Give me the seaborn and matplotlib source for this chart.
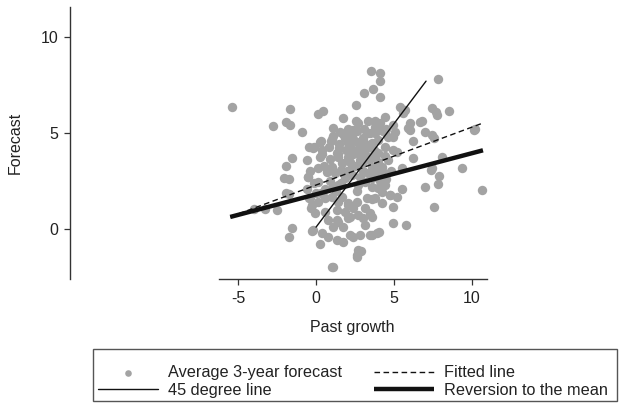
import matplotlib
matplotlib.use("Agg")
import matplotlib.pyplot as plt
from matplotlib.patches import Rectangle
import seaborn as sns
import pandas as pd

past_growth = [
    -5.4, -1.65, -2.75, -1.9, -1.65, -0.9, -0.45, -0.1, -1.55, -1.95, -2.05, -1.75, -1.95, -1.75,
    -3.25, -2.5, -3.95, -1.55, -1.75, -0.6, -0.45, -0.35, -0.25, -0.5, -0.4, -0.6,
    0.25, 0.45, 0.15, 1.1, 0.95, 0.35, 0.9, 1.35, 3.5, 4.1, 4.1, 3.65, 3.1, 4.1, 2.55, 1.75,
    2.55, 2.7, 4.4, 3.8, 3.95, 4.3, 3.75, 4.5, 2.07, 2.35, 1.75, 1.85, 0.3, 1.0, 1.55, 1.45, 1.1,
    -0.2, 0.35, 0.8, 0.25, 1.4,
    2.07, 2.61, 3.03, 3.35, 3.78, 4.1, 4.42, 3.57, 3.99, 4.63, 2.07, 2.71, 3.14, 3.57, 3.99, 4.42,
    1.65, 2.29, 2.93, 3.57, 4.21, 4.63,
    1.86, 2.29, 2.18, 2.61, 3.03, 3.46, 3.89, 1.43, 2.07, 1.0, 1.75,
    0.68, 0.15, -0.38, -0.28, 0.15, 0.58, 1.0, 1.43, 1.65, 2.07, 1.33, 0.58, -0.06, 0.79, 1.43,
    2.07, -0.17, 0.36, 0.79, 1.33, 0.26, 1.75, 2.18, 2.82, 3.46, 3.89, 3.14, 2.71, 3.14, 3.57,
    3.25, 3.78, 4.21, 4.42, 4.74, 4.21, 2.71, 2.61, 1.0, -0.5, 1.43, 1.86, 2.29, 2.71, 3.14, 3.57,
    3.99, 4.31, 3.57, 3.46, 3.03, 4.06, 3.57, 2.4, 2.86, 2.61, 1.07,
    2.07, 1.86, 1.33, 1.11, 1.75, 2.18, 2.39, 2.61,
    7.8, 5.4, 5.7, 5.6, 7.42, 7.69, 7.74, 8.55, 6.78, 6.03, 5.92, 4.96, 5.06, 4.92, 6.99, 7.42,
    7.53, 6.24, 10.19, 4.96, 6.2, 8.06, 9.34, 7.42, 7.37, 7.9, 7.8, 6.99, 10.62, 5.53, 4.74, 5.17,
    4.96, 7.58, 4.92, 5.75, 6.67, 6.03, 10.1,
    1.2, 1.6, 2.0, 2.5, 3.0, 3.4, 3.8, 4.2, 4.5, 0.5, 0.9, 1.3, 2.6, 3.6, 4.0, 4.4, 3.2, 2.8,
    1.9, 2.4, 5.2, 5.5, 4.8,
    2.2, 2.9, 3.3, 3.7, 2.4, 3.1, 2.8, 3.3, 3.9, 4.1, 1.6, 1.1, 0.6, 0.3, 0.0, -0.1, 0.1, 1.5,
    2.6, 3.3,
]
forecast = [
    6.35, 6.25, 5.35, 5.55, 5.4, 5.05, 4.25, 4.25, 3.7, 3.3, 2.65, 2.6, 1.9, 1.85,
    1.05, 0.97, 1.05, 0.07, -0.4, 2.1, 1.6, 1.1, -0.1, 2.7, 3.0, 3.6,
    4.55, 6.15, 6.0, 4.85, 4.6, 3.9, 3.65, 3.95, 8.25, 8.15, 7.7, 7.3, 7.1, 6.85, 6.45, 5.8,
    5.6, 5.5, 5.85, 5.6, 5.3, 5.1, 5.0, 5.2, 5.2, 5.15, 4.95, 4.75, 4.6, 4.7, 5.05, 4.45, 5.25,
    4.2, 4.1, 4.25, 3.75, 3.9,
    4.46, 4.55, 4.72, 4.98, 5.33, 5.5, 5.07, 4.46, 4.64, 4.81, 3.77, 3.94, 4.11, 3.77, 3.94, 4.29,
    3.42, 3.24, 3.42, 3.24, 3.24, 3.59,
    4.72, 4.9, 4.29, 4.11, 4.64, 4.98, 5.33, 3.77, 3.59, 3.24, 2.9,
    2.98, 2.46, 1.6, 1.25, 1.42, 1.6, 1.68, 1.42, 1.68, 1.25, 0.99, 0.9, 0.82, 0.47, 0.38,
    0.56, -0.05, -0.22, -0.4, -0.57, -0.78, -0.66, -0.31, -0.31, -0.31, -0.22, 0.21, 0.73, 1.08, 0.64,
    1.6, 1.6, 1.34, 2.29, 1.77, 1.94, -1.09, -1.35, -1.96, 2.72, 2.29, 2.64, 2.81, 2.29, 2.46, 2.64,
    2.12, 2.29, 1.55, 0.82, 0.56, -0.14, -0.31, -0.4, -1.13, -1.47, -2.0,
    1.34, 0.9, 0.47, 0.12, 0.12, 0.64, 1.08, 1.42,
    7.8, 6.35, 6.2, 6.03, 6.28, 6.11, 5.94, 6.15, 5.63, 5.5, 5.24, 5.42, 5.07, 4.81, 5.07, 4.9,
    4.72, 4.58, 5.19, 4.11, 3.68, 3.77, 3.16, 3.16, 3.07, 2.76, 2.34, 2.2, 2.03, 2.07, 1.77, 1.65,
    1.13, 1.13, 0.31, 0.21, 5.59, 5.16, 5.16,
    2.9, 3.1, 3.0, 3.3, 3.0, 3.6, 2.9, 3.0, 2.6, 3.3, 2.5, 2.0, 2.0, 2.2, 3.5, 3.8, 3.8, 3.6,
    4.1, 3.9, 4.0, 3.2, 3.0,
    3.5, 4.4, 4.4, 4.1, 4.7, 5.2, 2.7, 2.9, 3.2, 2.5, 2.4, 2.2, 2.1, 1.9, 1.9, 2.4, 3.2, 4.2,
    5.1, 5.6,
]

line45_x = [0.0, 7.05]
line45_y = [0.1, 7.7]
fitted_x = [-5.5, 10.7]
fitted_y = [0.63, 5.52]
reversion_x = [-5.5, 10.7]
reversion_y = [0.63, 4.1]

xtick_values = [-5, 0, 5, 10]
ytick_values = [0, 5, 10]

sns.set_theme(style="white")
plt.rcParams["font.family"] = ["Liberation Sans", "DejaVu Sans"]

fig = plt.figure(figsize=(6.21, 4.03), dpi=100)
ax = fig.add_axes([70 / 621, 1 - 279 / 403, 420 / 621, 272 / 403])

df = pd.DataFrame({"x": past_growth, "y": forecast})
sns.scatterplot(data=df, x="x", y="y", ax=ax, color="#a3a3a3", s=46, linewidth=0,
                label="Average 3-year forecast", zorder=2)
sns.lineplot(x=line45_x, y=line45_y, ax=ax, color="#111111", linewidth=1.0,
             label="45 degree line", zorder=3)
sns.lineplot(x=fitted_x, y=fitted_y, ax=ax, color="#111111", linewidth=1.0,
             linestyle=(0, (4, 2.5)), label="Fitted line", zorder=3)
sns.lineplot(x=reversion_x, y=reversion_y, ax=ax, color="#111111", linewidth=3.2,
             label="Reversion to the mean", zorder=3, solid_capstyle="butt")

ax.set_xlim(-15.77, 11.15)
ax.set_ylim(-2.6, 11.56)
ax.set_xticks(xtick_values)
ax.set_yticks(ytick_values)
ax.set_xticklabels([str(v) for v in xtick_values])
ax.set_yticklabels([str(v) for v in ytick_values])

for side in ["top", "right"]:
    ax.spines[side].set_visible(False)
for side in ["left", "bottom"]:
    ax.spines[side].set_color("#333333")
    ax.spines[side].set_linewidth(1.0)
ax.spines["bottom"].set_bounds(-6.25, 10.95)

ax.tick_params(axis="both", which="major", direction="out", length=4.5, width=0.9,
               color="#333333", labelsize=11.5, labelcolor="#222222", pad=4,
               bottom=True, left=True)

ax.set_xlabel("Past growth", fontsize=11.5, color="#222222")
ax.set_ylabel("Forecast", fontsize=11.5, color="#222222")
xc = (-6.25 + 10.95) / 2
xc_axes = (xc - (-15.77)) / (11.15 - (-15.77))
ax.xaxis.set_label_coords(xc_axes, -0.15)
ax.yaxis.set_label_coords(-0.112, 0.5)

handles, labels = ax.get_legend_handles_labels()
ax.get_legend().remove()
leg = fig.legend(handles, labels, ncol=2, loc="center",
                 bbox_to_anchor=(353 / 621, 1 - 381.5 / 403),
                 bbox_transform=fig.transFigure, fontsize=11.7, frameon=False,
                 handlelength=3.7, handletextpad=0.6, columnspacing=1.95,
                 labelspacing=0.15, borderpad=0.0, markerscale=0.7)
for t in leg.get_texts():
    t.set_color("#222222")

box = Rectangle((93 / 621, 1 - 401 / 403), (617 - 93) / 621, (401 - 349) / 403,
                transform=fig.transFigure, fill=False, edgecolor="#555555",
                linewidth=1.0)
fig.patches.append(box)

fig.savefig("out.png", dpi=100)
